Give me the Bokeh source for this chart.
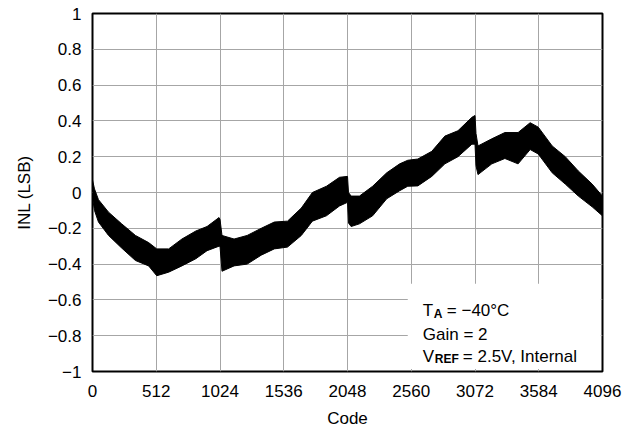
from bokeh.plotting import figure
from bokeh.models import FixedTicker, CustomJSTickFormatter, Range1d
from bokeh.core.properties import value
from bokeh.embed import file_html
from bokeh.resources import INLINE

# ---- data (envelope of the noisy INL trace) ----
codes = [0, 16, 48, 129, 234, 345, 451, 516, 612, 718, 830, 920, 1016, 1024,
         1040, 1137, 1242, 1355, 1460, 1566, 1677, 1766, 1879, 1984, 2048,
         2056, 2077, 2144, 2250, 2363, 2467, 2532, 2613, 2725, 2830, 2935,
         3047, 3072, 3080, 3096, 3207, 3312, 3418, 3515, 3580, 3692, 3797,
         3902, 4013, 4095]
inl_upper = [0.07, 0.02, -0.04, -0.11, -0.175, -0.24, -0.28, -0.315, -0.315,
             -0.26, -0.215, -0.19, -0.14, -0.15, -0.24, -0.26, -0.24, -0.2,
             -0.165, -0.16, -0.087, 0.0, 0.035, 0.085, 0.09, 0.0, -0.02, -0.02,
             0.035, 0.11, 0.16, 0.18, 0.187, 0.23, 0.315, 0.345, 0.42, 0.43,
             0.33, 0.26, 0.3, 0.335, 0.335, 0.39, 0.365, 0.26, 0.2, 0.12,
             0.047, -0.02]
inl_lower = [-0.03, -0.1, -0.165, -0.24, -0.31, -0.38, -0.41, -0.465, -0.445,
             -0.41, -0.37, -0.325, -0.3, -0.3, -0.44, -0.41, -0.4, -0.35,
             -0.315, -0.305, -0.24, -0.16, -0.13, -0.075, -0.055, -0.17, -0.19,
             -0.175, -0.13, -0.035, 0.01, 0.035, 0.037, 0.09, 0.16, 0.2, 0.27,
             0.27, 0.15, 0.1, 0.16, 0.19, 0.16, 0.24, 0.215, 0.11, 0.047, -0.02,
             -0.08, -0.13]

x_ticks = [0, 512, 1024, 1536, 2048, 2560, 3072, 3584, 4096]
y_ticks = [-1, -0.8, -0.6, -0.4, -0.2, 0, 0.2, 0.4, 0.6, 0.8, 1]

FONT = "Liberation Sans"
FS = "17px"

p = figure(width=625, height=431, output_backend="svg", toolbar_location=None,
           x_range=Range1d(0, 4096), y_range=Range1d(-1, 1),
           min_border_left=92, min_border_right=23, min_border_top=13,
           min_border_bottom=60)

p.outline_line_color = "black"
p.outline_line_width = 2
p.background_fill_color = "white"
p.border_fill_color = "white"

for g in (p.xgrid, p.ygrid):
    g.grid_line_color = "#a6a6a6"
    g.grid_line_width = 1
p.xgrid.ticker = FixedTicker(ticks=x_ticks)
p.ygrid.ticker = FixedTicker(ticks=y_ticks)

p.xaxis.ticker = FixedTicker(ticks=x_ticks)
p.yaxis.ticker = FixedTicker(ticks=y_ticks)
p.yaxis.formatter = CustomJSTickFormatter(code="""
const v = Math.round(tick*10)/10;
const s = (Math.abs(v) < 1e-9) ? '0' : String(v);
return s.replace('-', '\\u2212');
""")

for ax in (p.xaxis, p.yaxis):
    ax.axis_line_color = None
    ax.major_tick_line_color = None
    ax.minor_tick_line_color = None
    ax.major_tick_out = 0
    ax.major_tick_in = 0
    ax.major_label_text_font = FONT
    ax.major_label_text_font_size = FS
    ax.major_label_text_color = "black"
    ax.axis_label_text_font = FONT
    ax.axis_label_text_font_size = FS
    ax.axis_label_text_font_style = "normal"
    ax.axis_label_text_color = "black"

p.xaxis.axis_label = "Code"
p.yaxis.axis_label = "INL (LSB)"
p.yaxis.major_label_standoff = 11
p.xaxis.major_label_standoff = 13
p.yaxis.axis_label_standoff = 11
p.xaxis.axis_label_standoff = 9

# trace band
p.varea(x=codes, y1=inl_lower, y2=inl_upper, fill_color="black")
p.line(codes, inl_upper, line_color="black", line_width=1)
p.line(codes, inl_lower, line_color="black", line_width=1)

# white box behind the conditions text
p.quad(left=[2532], right=[4082], bottom=[-0.986], top=[-0.51],
       fill_color="white", line_color=None)

tx = 2653
rows_y = [-0.660, -0.791, -0.914]
common = dict(text_font=value(FONT), text_color="black",
              text_baseline="alphabetic", text_align="left")
p.text(x=[tx], y=[rows_y[0]], text=["T"], text_font_size=FS, **common)
p.text(x=[tx], y=[rows_y[0]], text=["A"], x_offset=11, y_offset=3,
       text_font_size="12px", text_font_style="bold", **common)
p.text(x=[tx], y=[rows_y[0]], text=["= \u221240\u00b0C"], x_offset=24,
       text_font_size=FS, **common)
p.text(x=[tx], y=[rows_y[1]], text=["Gain = 2"], text_font_size=FS, **common)
p.text(x=[tx], y=[rows_y[2]], text=["V"], text_font_size=FS, **common)
p.text(x=[tx], y=[rows_y[2]], text=["REF"], x_offset=12, y_offset=3,
       text_font_size="12px", text_font_style="bold", **common)
p.text(x=[tx], y=[rows_y[2]], text=["= 2.5V, Internal"], x_offset=40,
       text_font_size=FS, **common)

open("out.html", "w").write(file_html(p, INLINE))
